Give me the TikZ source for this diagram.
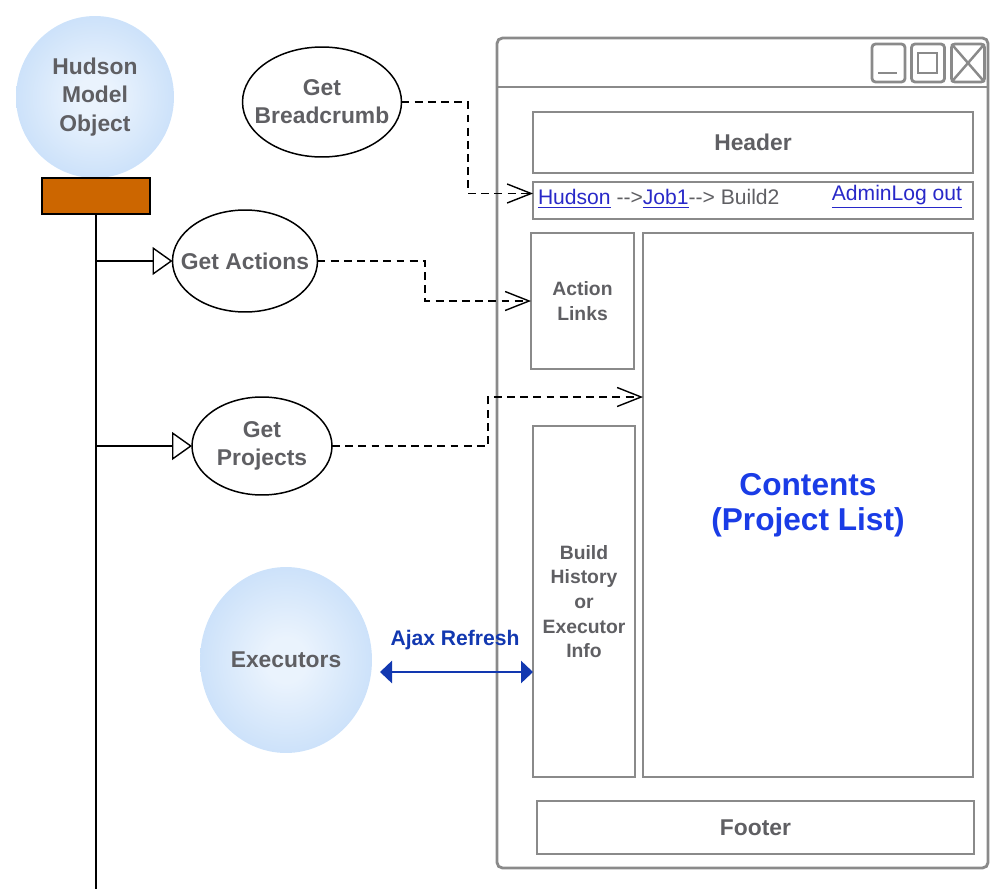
\documentclass[tikz,border=0pt]{standalone}
\usepackage{fontspec}
\setmainfont{Liberation Sans}
\usetikzlibrary{shapes.geometric,arrows.meta}
\definecolor{labelgrey}{HTML}{5F5F63}
\definecolor{framegrey}{HTML}{8A8A8A}
\definecolor{linkblue}{HTML}{2828C8}
\definecolor{ajaxblue}{HTML}{1238B0}
\definecolor{contentblue}{HTML}{1A3CE6}
\definecolor{bubbleblue}{HTML}{A6CBF5}
\definecolor{bubblecore}{HTML}{EAF3FD}
\definecolor{barorange}{HTML}{CC6600}
\pgfdeclareradialshading{bubbleshade}{\pgfpoint{0bp}{0bp}}{color(0bp)=(bubblecore);color(6bp)=(bubblecore);color(50bp)=(bubbleblue)}

\begin{document}
\begin{tikzpicture}[x=0.02cm,y=-0.02cm]
\tikzstyle{every node}+=[inner sep=0pt,outer sep=0pt]
\tikzstyle{greytext}=[font=\bfseries\fontsize{13}{16}\selectfont,text=labelgrey,align=center]
\tikzstyle{smalltext}=[font=\bfseries\fontsize{11}{14}\selectfont,text=labelgrey,align=center]
\tikzstyle{bubble}=[ellipse,shade,shading=bubbleshade,inner sep=-1cm,greytext]
\tikzstyle{call}=[ellipse,draw,line width=0.85pt,inner sep=-1cm,greytext]
\tikzstyle{pane}=[rectangle,draw=framegrey,line width=1.6pt,greytext]
\tikzstyle{feed}=[dash pattern=on 4.5pt off 3pt,line width=0.8pt,-{Straight Barb[length=0.48cm,width=0.38cm,line width=0.8pt]}]
\tikzstyle{invoke}=[line width=0.8pt,-{Triangle[open,length=0.4cm,width=0.56cm,line width=0.8pt]}]
\tikzstyle{refresh}=[draw=ajaxblue,line width=1.6pt,{Triangle[length=0.24cm,width=0.44cm]}-{Triangle[length=0.24cm,width=0.44cm]}]
\useasboundingbox (0,0) rectangle (994,889);
\node[bubble,minimum width=3.16cm,minimum height=3.24cm] (hudson) at (95,97) {Hudson\\Model\\Object};
\node[draw,fill=barorange,line width=0.8pt,minimum width=2.16cm,minimum height=0.72cm] (model) at (96,196) {};
\coordinate (lifeend) at (96,889);
\draw[line width=0.8pt] (model.south) -- (lifeend);
\node[call,minimum width=3.18cm,minimum height=2.2cm] (crumbcall) at (322,102) {Get\\Breadcrumb};
\node[call,minimum width=2.9cm,minimum height=2.04cm] (actcall) at (245,261) {Get Actions};
\node[call,minimum width=2.8cm,minimum height=1.96cm] (projcall) at (262,446) {Get\\Projects};
\node[bubble,minimum width=3.44cm,minimum height=3.72cm] (executors) at (286,660) {Executors};
\coordinate (actfork) at (96,261);
\coordinate (projfork) at (96,446);
\draw[invoke] (actfork) -- (actcall.west);
\draw[invoke] (projfork) -- (projcall.west);
\node[draw=framegrey,line width=1.6pt,rounded corners=3pt,minimum width=9.82cm,minimum height=16.6cm] (window) at (742.5,453) {};
\draw[framegrey,line width=1.6pt] (window.west |- 0,87) -- (window.east |- 0,87);
\foreach \name/\x in {minbtn/888.5,maxbtn/928,closebtn/968}
  \node[draw=framegrey,line width=1.6pt,rounded corners=2pt,minimum width=0.66cm,minimum height=0.76cm] (\name) at (\x,63) {};
\draw[framegrey,line width=1.6pt] (878,73) -- (897,73);
\draw[framegrey,line width=1.6pt] (918,53) rectangle (937,73);
\draw[framegrey,line width=1.4pt] (closebtn.north west) -- (closebtn.south east) (closebtn.north east) -- (closebtn.south west);
\node[pane,minimum width=8.8cm,minimum height=1.22cm] (header) at (753,142.5) {Header};
\node[pane,minimum width=8.8cm,minimum height=0.74cm] (crumb) at (753,200.5) {};
\node[anchor=west,font=\fontsize{12}{14}\selectfont,text=labelgrey] (trail) at (538,199) {\textcolor{linkblue}{\underline{Hudson}} -{}->\textcolor{linkblue}{\underline{Job1}}-{}-> Build2};
\node[anchor=east,font=\fontsize{12}{14}\selectfont,text=linkblue] (account) at (962,197) {\underline{AdminLog out}};
\node[pane,smalltext,minimum width=2.06cm,minimum height=2.72cm] (links) at (582.5,301) {Action\\Links};
\node[pane,minimum width=6.6cm,minimum height=10.88cm,font=\bfseries\fontsize{18}{20}\selectfont,text=contentblue] (contents) at (808,505) {Contents\\(Project List)};
\node[pane,smalltext,minimum width=2.04cm,minimum height=7.02cm] (history) at (584,601.5) {Build\\History\\or\\Executor\\Info};
\node[pane,minimum width=8.74cm,minimum height=1.06cm] (footer) at (755.5,827.5) {Footer};
\draw[feed] (crumbcall.east) -- (468,102) |- ([yshift=0.14cm]crumb.west);
\draw[feed] (actcall.east) -- (425,261) |- (links.west);
\draw[feed] (projcall.east) -- (488,446) |- (contents.west |- projcall.north);
\coordinate (ajaxend) at (380,672);
\draw[refresh] (ajaxend) -- (history.west |- ajaxend);
\node[font=\bfseries\fontsize{12}{14}\selectfont,text=ajaxblue] (ajaxlabel) at (455,640) {Ajax Refresh};
\end{tikzpicture}
\end{document}
